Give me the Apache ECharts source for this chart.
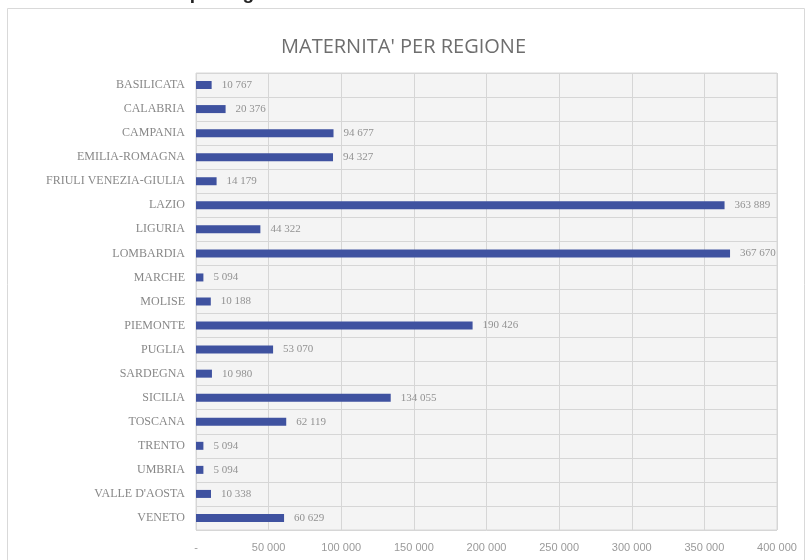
<!DOCTYPE html>
<html>
<head>
<meta charset="utf-8">
<script src="https://cdn.jsdelivr.net/npm/echarts@6/dist/echarts.min.js"></script>
<style>
  html, body { margin: 0; padding: 0; background: #fff; }
  #chart { width: 807px; height: 560px; }
</style>
</head>
<body>
<div id="chart"></div>
<script>
var regioni = ['BASILICATA', 'CALABRIA', 'CAMPANIA', 'EMILIA-ROMAGNA', 'FRIULI VENEZIA-GIULIA', 'LAZIO',
  'LIGURIA', 'LOMBARDIA', 'MARCHE', 'MOLISE', 'PIEMONTE', 'PUGLIA', 'SARDEGNA', 'SICILIA',
  'TOSCANA', 'TRENTO', 'UMBRIA', "VALLE D'AOSTA", 'VENETO']
var maternita = [10767, 20376, 94677, 94327, 14179, 363889, 44322, 367670, 5094, 10188,
  190426, 53070, 10980, 134055, 62119, 5094, 5094, 10338, 60629]
var xTicks = [0, 50000, 100000, 150000, 200000, 250000, 300000, 350000, 400000]

function fmt(v) {
  return String(v).replace(/\B(?=(\d{3})+(?!\d))/g, ' ')
}

var myChart = echarts.init(document.getElementById('chart'))
var option = {
  animation: false,
  backgroundColor: '#fff',
  graphic: [
    {
      type: 'rect',
      shape: { x: 7.5, y: 8.5, width: 797, height: 560 },
      style: { fill: '#fff', stroke: '#d9d9d9', lineWidth: 1 },
      z: -10
    },
    {
      type: 'text',
      left: 100, top: -16,
      style: { text: 'Maternità per regione', font: 'bold 19px "Liberation Sans"', fill: '#222' }
    }
  ],
  title: {
    text: "MATERNITA' PER REGIONE",
    left: 'center',
    top: 32,
    textStyle: { color: '#6e6e6e', fontSize: 20, fontWeight: 'normal', fontFamily: '"Open Sans", "Liberation Sans", sans-serif' }
  },
  grid: {
    left: 196, right: 30, top: 73, bottom: 30,
    show: true,
    backgroundColor: '#f4f4f4',
    borderColor: '#d9d9d9',
    borderWidth: 1
  },
  xAxis: {
    type: 'value',
    min: xTicks[0],
    max: xTicks[xTicks.length - 1],
    interval: 50000,
    axisLine: { show: false },
    axisTick: { show: false },
    splitLine: { lineStyle: { color: '#d6d6d6' } },
    axisLabel: {
      color: '#9a9a9a', fontSize: 11, margin: 12,
      fontFamily: '"Liberation Sans", sans-serif',
      formatter: function (v) { return v === 0 ? '-' : fmt(v) }
    }
  },
  yAxis: {
    type: 'category',
    inverse: true,
    data: regioni,
    axisLine: { show: false },
    axisTick: { show: false },
    splitLine: { show: true, lineStyle: { color: '#d6d6d6' } },
    axisLabel: {
      color: '#888', fontSize: 12, margin: 11,
      fontFamily: '"Liberation Serif", serif'
    }
  },
  series: [{
    type: 'bar',
    data: maternita,
    barWidth: 8,
    itemStyle: { color: '#3f52a0' },
    label: {
      show: true,
      position: 'right',
      distance: 10,
      color: '#929292',
      fontSize: 11,
      fontFamily: '"Liberation Serif", serif',
      formatter: function (p) { return fmt(p.value) }
    }
  }]
}
myChart.setOption(option)
</script>
</body>
</html>
